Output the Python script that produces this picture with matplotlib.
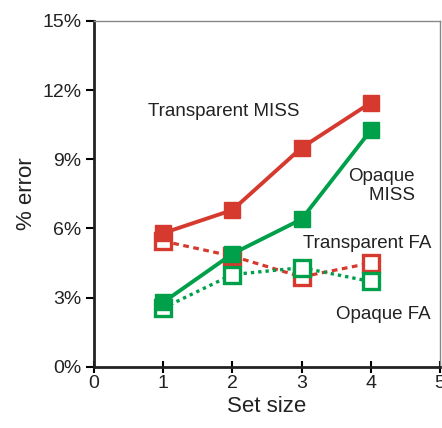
import matplotlib
matplotlib.use("Agg")
import matplotlib.pyplot as plt

plt.rcParams["font.family"] = ["Liberation Sans", "DejaVu Sans"]

set_size = [1, 2, 3, 4]
transparent_miss = [5.8, 6.8, 9.5, 11.45]
opaque_miss = [2.8, 4.9, 6.4, 10.25]
transparent_fa = [5.45, 4.8, 3.9, 4.5]
opaque_fa = [2.55, 4.0, 4.3, 3.7]

red = "#D63A2F"
green = "#00A04B"
txt = "#222222"

fig = plt.figure(figsize=(4.42, 4.28), dpi=100)
ax = fig.add_axes([0.213, 0.143, 0.782, 0.808])

ax.plot(set_size, transparent_fa, color=red, linestyle=(0, (1.8, 1.4)), linewidth=2.3,
        marker="s", markersize=11, markerfacecolor="white", markeredgecolor=red,
        markeredgewidth=2.4, zorder=2)
ax.plot(set_size, opaque_fa, color=green, linestyle=(0, (1.0, 1.2)), linewidth=2.4,
        marker="s", markersize=11, markerfacecolor="white", markeredgecolor=green,
        markeredgewidth=2.4, zorder=3)
ax.plot(set_size, transparent_miss, color=red, linewidth=2.8, marker="s", markersize=12,
        zorder=4)
ax.plot(set_size, opaque_miss, color=green, linewidth=2.8, marker="s", markersize=12,
        zorder=5)

fs = 13.5
ax.text(1.88, 11.08, "Transparent MISS", ha="center", va="center", fontsize=fs, color=txt)
ax.text(4.64, 7.85, "Opaque\n    MISS", ha="right", va="center", fontsize=fs, color=txt,
        linespacing=1.2)
ax.text(3.95, 5.36, "Transparent FA", ha="center", va="center", fontsize=fs, color=txt)
ax.text(4.19, 2.27, "Opaque FA", ha="center", va="center", fontsize=fs, color=txt)

ax.set_xlim(0, 5)
ax.set_ylim(0, 15)
ax.set_xticks([0, 1, 2, 3, 4, 5])
ax.set_yticks([0, 3, 6, 9, 12, 15])
ax.set_yticklabels(["0%", "3%", "6%", "9%", "12%", "15%"])
ax.tick_params(axis="x", direction="inout", length=8, width=1.5, labelsize=14,
               labelcolor=txt, pad=2)
ax.tick_params(axis="y", direction="out", length=6, width=1.5, labelsize=14,
               labelcolor=txt, pad=3)

ax.set_xlabel("Set size", fontsize=16, color=txt, labelpad=3)
ax.set_ylabel("% error", fontsize=16, color=txt, labelpad=4)

for side in ["left", "bottom"]:
    ax.spines[side].set_linewidth(2.0)
    ax.spines[side].set_color(txt)
for side in ["top", "right"]:
    ax.spines[side].set_linewidth(1.0)
    ax.spines[side].set_color("#888888")

fig.savefig("out.png", dpi=100)
